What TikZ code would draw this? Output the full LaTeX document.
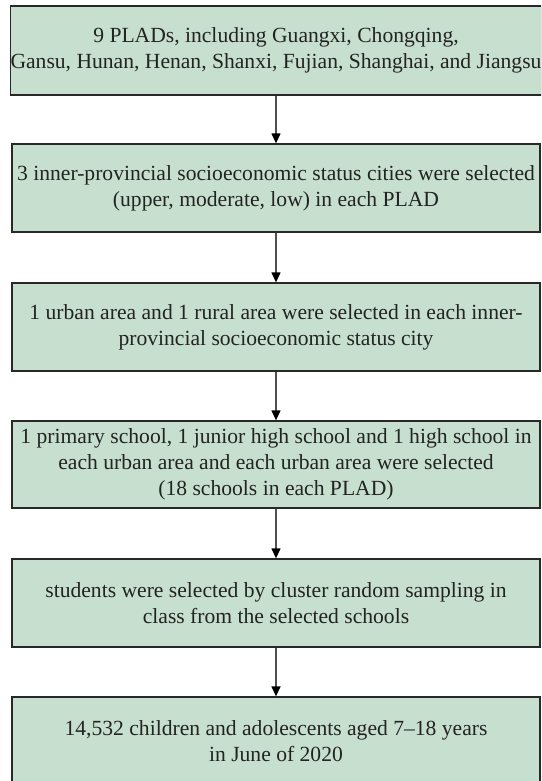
\documentclass[tikz,border=0pt]{standalone}
\usepackage{fontspec}
\setmainfont{Liberation Serif}
\usetikzlibrary{arrows.meta}
\definecolor{boxfill}{RGB}{199,223,206}
\definecolor{boxline}{RGB}{40,40,40}
\definecolor{arrline}{RGB}{80,80,80}
\definecolor{txt}{RGB}{35,35,35}
\begin{document}
\begin{tikzpicture}[x=1pt,y=-1pt,
  stepbox/.style={draw=boxline, line width=1.3pt, fill=boxfill, minimum width=528pt,
    inner sep=0pt, align=center, text=txt, font=\fontsize{21.6}{26}\selectfont},
  flow/.style={draw=arrline, line width=1.3pt, -{Triangle[length=10pt,width=9pt,fill=black,color=black]}}]
\useasboundingbox (0,0) rectangle (541,781);
\begin{scope}
\clip (0,0) rectangle (541,781);
\node[stepbox, minimum height=89pt] (b1) at (276,50.5) {9 PLADs, including Guangxi, Chongqing,\\Gansu, Hunan, Henan, Shanxi, Fujian, Shanghai, and Jiangsu};
\node[stepbox, minimum height=88pt] (b2) at (276,188) {3 inner-provincial socioeconomic status cities were selected\\(upper, moderate, low) in each PLAD};
\node[stepbox, minimum height=88pt] (b3) at (276,327) {1 urban area and 1 rural area were selected in each inner-\\provincial socioeconomic status city};
\node[stepbox, minimum height=87pt] (b4) at (276,464.5) {1 primary school, 1 junior high school and 1 high school in\\each urban area and each urban area were selected\\(18 schools in each PLAD)};
\node[stepbox, minimum height=88pt] (b5) at (276,603) {students were selected by cluster random sampling in\\class from the selected schools};
\node[stepbox, minimum height=88pt] (b6) at (276,741) {14,532 children and adolescents aged 7--18 years\\in June of 2020};
\draw[flow] (b1) -- (b2);
\draw[flow] (b2) -- (b3);
\draw[flow] (b3) -- (b4);
\draw[flow] (b4) -- (b5);
\draw[flow] (b5) -- (b6);
\end{scope}
\end{tikzpicture}
\end{document}
